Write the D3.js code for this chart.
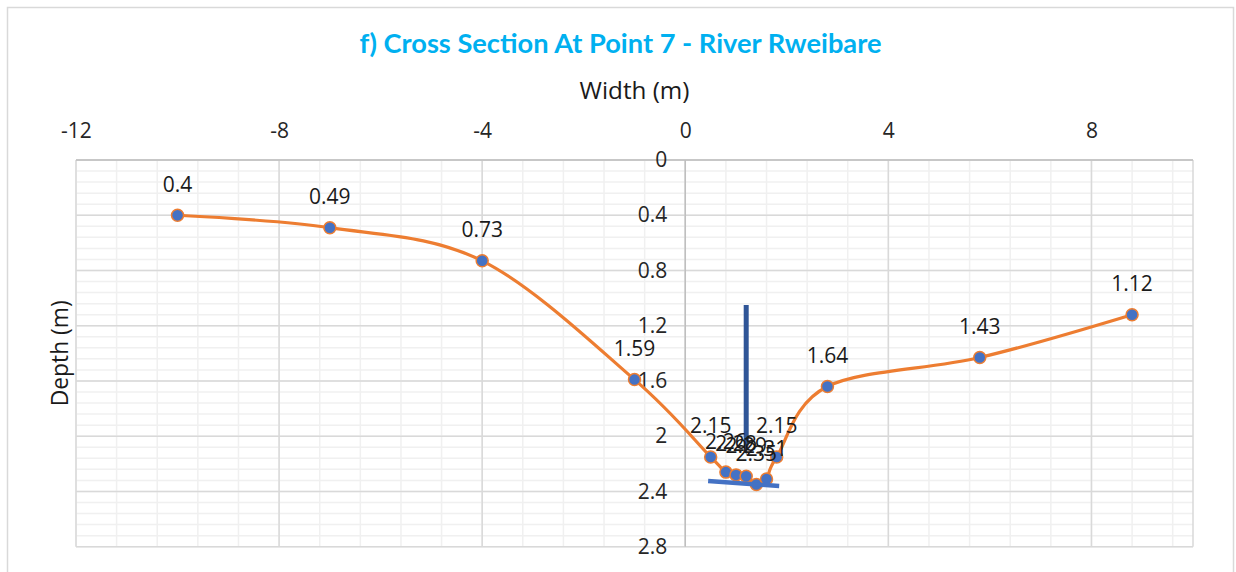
<!DOCTYPE html>
<html>
<head>
<meta charset="utf-8">
<script src="https://cdn.jsdelivr.net/npm/d3@7"></script>
<style>
  html, body { margin: 0; padding: 0; background: #fff; }
  svg { display: block; font-family: "Open Sans", Lato, sans-serif; }
</style>
</head>
<body>
<svg id="chart" width="1236" height="572"></svg>
<script>
// Cross-section survey: horizontal offset (m) and measured depth (m)
const widths = [-10, -7, -4, -1, 0.5, 0.8, 1.0, 1.2, 1.4, 1.6, 1.8, 2.8, 5.8, 8.8];
const depths = [0.4, 0.49, 0.73, 1.59, 2.15, 2.26, 2.28, 2.29, 2.35, 2.31, 2.15, 1.64, 1.43, 1.12];

// Axis ticks
const xTicks = [-12, -8, -4, 0, 4, 8];
const yTicks = [0, 0.4, 0.8, 1.2, 1.6, 2, 2.4, 2.8];

// Annotation shapes, in data units (width, depth)
const gaugeX = [1.2, 1.2];
const gaugeDepth = [1.05, 2.14];
const bedX = [0.45, 1.85];
const bedDepth = [2.325, 2.36];

const titleText = "f) Cross Section At Point 7 - River Rweibare";

const svg = d3.select("#chart");

// scale a text's font so it spans the given width
function fitWidth(sel, base, target) {
  const w = sel.node().getComputedTextLength();
  sel.attr("font-size", base * target / w);
}

// chart area frame
svg.append("rect")
  .attr("x", 7.5).attr("y", 7.5).attr("width", 1226).attr("height", 580)
  .attr("fill", "#fff").attr("stroke", "#d9d9d9").attr("stroke-width", 1.5);

const x = d3.scaleLinear().domain([-12, 10]).range([76, 1193]);
const y = d3.scaleLinear().domain([0, 2.8]).range([160, 546.7]);

const g = svg.append("g");

// minor gridlines
const xMinor = d3.range(-12, 10.001, 0.8).map(v => +v.toFixed(2));
const yMinor = d3.range(0, 2.8001, 0.08).map(v => +v.toFixed(2));
g.append("g").selectAll("line").data(yMinor).join("line")
  .attr("x1", x(-12)).attr("x2", x(10))
  .attr("y1", d => y(d)).attr("y2", d => y(d))
  .attr("stroke", "#f0f0f0").attr("stroke-width", 1.5);
g.append("g").selectAll("line").data(xMinor).join("line")
  .attr("x1", d => x(d)).attr("x2", d => x(d))
  .attr("y1", y(0)).attr("y2", y(2.8))
  .attr("stroke", "#f0f0f0").attr("stroke-width", 1.5);

// major gridlines
g.append("g").selectAll("line").data(yTicks).join("line")
  .attr("x1", x(-12)).attr("x2", x(10))
  .attr("y1", d => y(d)).attr("y2", d => y(d))
  .attr("stroke", "#d9d9d9").attr("stroke-width", 1.5);
g.append("g").selectAll("line").data(xTicks.concat([10])).join("line")
  .attr("x1", d => x(d)).attr("x2", d => x(d))
  .attr("y1", y(0)).attr("y2", y(2.8))
  .attr("stroke", "#d9d9d9").attr("stroke-width", 1.5);

// axis lines: horizontal axis on top (depth 0), vertical axis at width 0
g.append("line")
  .attr("x1", x(-12)).attr("x2", x(10)).attr("y1", y(0)).attr("y2", y(0))
  .attr("stroke", "#bfbfbf").attr("stroke-width", 1.5);
g.append("line")
  .attr("x1", x(0)).attr("x2", x(0)).attr("y1", y(0)).attr("y2", y(2.8))
  .attr("stroke", "#bfbfbf").attr("stroke-width", 1.5);

// tick labels (plain hyphen for negatives)
const fmt = d => String(d).replace("\u2212", "-");
const xAxis = d3.axisTop(x).tickValues(xTicks).tickSize(0).tickPadding(0).tickFormat(fmt);
const xa = svg.append("g").attr("transform", `translate(0, 138)`).call(xAxis);
xa.select(".domain").remove();
xa.selectAll("text").attr("font-size", 21).attr("fill", "#262626")
  .attr("font-family", "'Open Sans', Lato, sans-serif");

const yAxis = d3.axisLeft(y).tickValues(yTicks).tickSize(0).tickPadding(0).tickFormat(fmt);
const ya = svg.append("g").attr("transform", `translate(${x(0) - 18}, 0)`).call(yAxis);
ya.select(".domain").remove();
ya.selectAll("text").attr("font-size", 21).attr("fill", "#262626")
  .attr("font-family", "'Open Sans', Lato, sans-serif");

// axis titles
const wt = svg.append("text")
  .attr("x", (x(-12) + x(10)) / 2).attr("y", 99)
  .attr("text-anchor", "middle").attr("font-size", 18).attr("fill", "#1a1a1a")
  .text("Width (m)");
fitWidth(wt, 18, 110);
const dt = svg.append("text")
  .attr("transform", `translate(68, ${(y(0) + y(2.8)) / 2}) rotate(-90)`)
  .attr("text-anchor", "middle").attr("font-size", 18).attr("fill", "#1a1a1a")
  .text("Depth (m)");
fitWidth(dt, 18, 106);

// title
const title = svg.append("text")
  .attr("x", 620.5).attr("y", 53)
  .attr("text-anchor", "middle").attr("font-size", 22).attr("font-weight", "bold")
  .attr("font-family", "Lato, 'Open Sans', sans-serif")
  .attr("fill", "#00b0f0")
  .text(titleText);
fitWidth(title, 22, 522);

// profile line
const pts = widths.map((w, i) => [w, depths[i]]);
const line = d3.line().x(d => x(d[0])).y(d => y(d[1])).curve(d3.curveCatmullRom.alpha(0));
svg.append("path").datum(pts)
  .attr("d", line).attr("fill", "none")
  .attr("stroke", "#ed7d31").attr("stroke-width", 3.2)
  .attr("stroke-linejoin", "round");

// markers
svg.append("g").selectAll("circle").data(pts).join("circle")
  .attr("cx", d => x(d[0])).attr("cy", d => y(d[1])).attr("r", 6)
  .attr("fill", "#4472c4").attr("stroke", "#ed7d31").attr("stroke-width", 1.5);

// annotation shapes: bed line and gauge arrow
svg.append("line")
  .attr("x1", x(bedX[0])).attr("y1", y(bedDepth[0]))
  .attr("x2", x(bedX[1])).attr("y2", y(bedDepth[1]))
  .attr("stroke", "#4472c4").attr("stroke-width", 4.5);

const gx = x(gaugeX[0]), gTop = y(gaugeDepth[0]), gBot = y(gaugeDepth[1]);
svg.append("path")
  .attr("d", `M${gx - 2.5},${gTop} L${gx + 2.5},${gTop} L${gx + 2.5},${gBot - 11} L${gx},${gBot} L${gx - 2.5},${gBot - 11} Z`)
  .attr("fill", "#2f5597");

// data labels, above each point
svg.append("g").selectAll("text").data(pts).join("text")
  .attr("x", d => x(d[0])).attr("y", d => y(d[1]) - 23.5)
  .attr("text-anchor", "middle").attr("font-size", 21).attr("fill", "#1a1a1a")
  .text(d => d[1]);
</script>
</body>
</html>
